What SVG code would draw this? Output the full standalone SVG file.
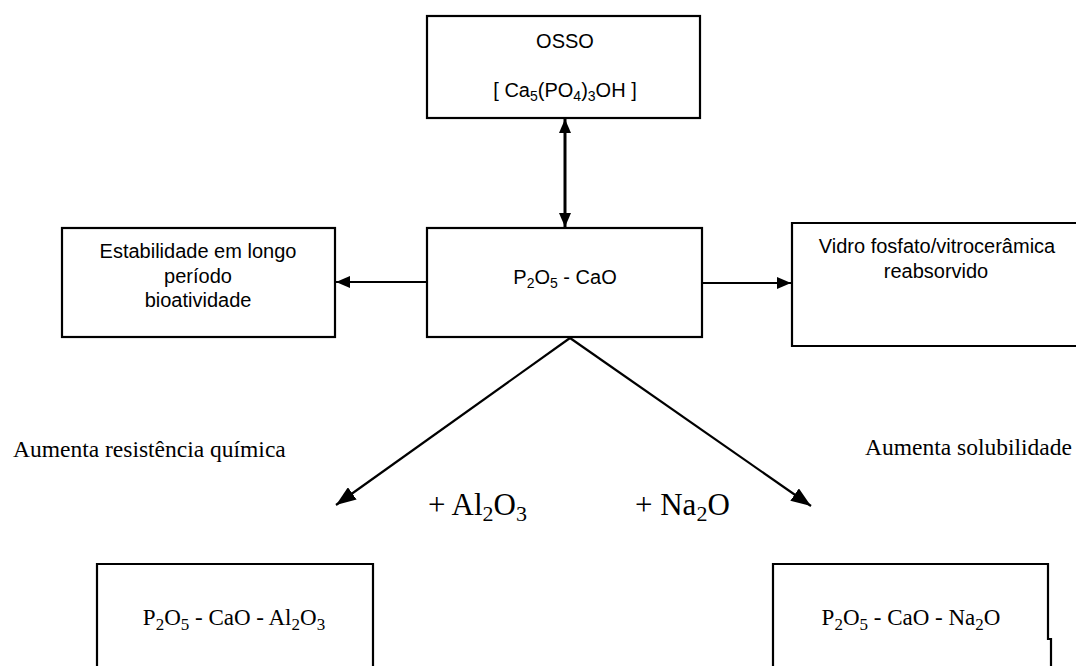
<svg xmlns="http://www.w3.org/2000/svg" width="1076" height="666" viewBox="0 0 1076 666">
<style>
.box{fill:#fff;stroke:#000;stroke-width:2.2}
.sans{font-family:"Liberation Sans",Arial,sans-serif;font-size:20px;fill:#000}
.serif{font-family:"Liberation Serif","Times New Roman",serif;fill:#000}
.conn{stroke:#000;stroke-width:2.2;fill:none}
.ssub{font-size:14px}
</style>
<defs>
<marker id="ah" viewBox="0 0 14 12" refX="14" refY="6" markerUnits="userSpaceOnUse" markerWidth="14" markerHeight="12" orient="auto-start-reverse">
<path d="M0,0 L14,6 L0,12 z" fill="#000"/>
</marker>
<marker id="ahL" viewBox="0 0 20 15" refX="20" refY="7.5" markerUnits="userSpaceOnUse" markerWidth="20" markerHeight="15" orient="auto">
<path d="M0,0 L20,7.5 L0,15 z" fill="#000"/>
</marker>
</defs>
<rect width="1076" height="666" fill="#fff"/>

<g id="connectors">
<line class="conn" x1="565" y1="119" x2="565" y2="227" style="stroke-width:3" marker-start="url(#ah)" marker-end="url(#ah)"/>
<line class="conn" x1="427" y1="282" x2="336" y2="282" marker-end="url(#ah)"/>
<line class="conn" x1="702" y1="283" x2="791" y2="283" marker-end="url(#ah)"/>
<line class="conn" x1="570" y1="338" x2="336" y2="505" marker-end="url(#ahL)"/>
<line class="conn" x1="570" y1="338" x2="811" y2="506" marker-end="url(#ahL)"/>
</g>

<g id="osso">
<rect class="box" x="427" y="16" width="273" height="102"/>
<text class="sans" x="565" y="48" text-anchor="middle">OSSO</text>
<text class="sans" x="565" y="97" text-anchor="middle">[ Ca<tspan class="ssub" dy="4">5</tspan><tspan dy="-4">(PO</tspan><tspan class="ssub" dy="4">4</tspan><tspan dy="-4">)</tspan><tspan class="ssub" dy="4">3</tspan><tspan dy="-4">OH ]</tspan></text>
</g>

<g id="center">
<rect class="box" x="427" y="228" width="275" height="109"/>
<text class="sans" x="565" y="284" text-anchor="middle">P<tspan class="ssub" dy="4">2</tspan><tspan dy="-4">O</tspan><tspan class="ssub" dy="4">5</tspan><tspan dy="-4"> - CaO</tspan></text>
</g>

<g id="estabilidade">
<rect class="box" x="62" y="228" width="273" height="109"/>
<text class="sans" x="198" y="258" text-anchor="middle">Estabilidade em longo</text>
<text class="sans" x="198" y="283" text-anchor="middle">período</text>
<text class="sans" x="198" y="307" text-anchor="middle">bioatividade</text>
</g>

<g id="vidro">
<path class="box" d="M1078,223 L792,223 L792,346 L1078,346"/>
<text class="sans" x="937" y="253" text-anchor="middle">Vidro fosfato/vitrocerâmica</text>
<text class="sans" x="936" y="278" text-anchor="middle">reabsorvido</text>
</g>

<g id="labels">
<text class="serif" x="13" y="457" style="font-size:23.5px">Aumenta resistência química</text>
<text class="serif" x="865" y="455" style="font-size:23.5px">Aumenta solubilidade</text>
<text class="serif" x="428" y="515" style="font-size:31px">+ Al<tspan style="font-size:22px" dy="6">2</tspan><tspan dy="-6">O</tspan><tspan style="font-size:22px" dy="6">3</tspan></text>
<text class="serif" x="635" y="515" style="font-size:31px">+ Na<tspan style="font-size:22px" dy="6">2</tspan><tspan dy="-6">O</tspan></text>
</g>

<g id="al">
<path class="box" d="M97,668 L97,564 L373,564 L373,668"/>
<text class="serif" x="234" y="625" text-anchor="middle" style="font-size:23px">P<tspan style="font-size:17px" dy="5">2</tspan><tspan dy="-5">O</tspan><tspan style="font-size:17px" dy="5">5</tspan><tspan dy="-5"> - CaO - Al</tspan><tspan style="font-size:17px" dy="5">2</tspan><tspan dy="-5">O</tspan><tspan style="font-size:17px" dy="5">3</tspan></text>
</g>

<g id="na">
<path class="box" d="M773,668 L773,564 L1048,564 L1048,639 L1051,639 L1051,668"/>
<text class="serif" x="911" y="625" text-anchor="middle" style="font-size:23px">P<tspan style="font-size:17px" dy="5">2</tspan><tspan dy="-5">O</tspan><tspan style="font-size:17px" dy="5">5</tspan><tspan dy="-5"> - CaO - Na</tspan><tspan style="font-size:17px" dy="5">2</tspan><tspan dy="-5">O</tspan></text>
</g>
</svg>
